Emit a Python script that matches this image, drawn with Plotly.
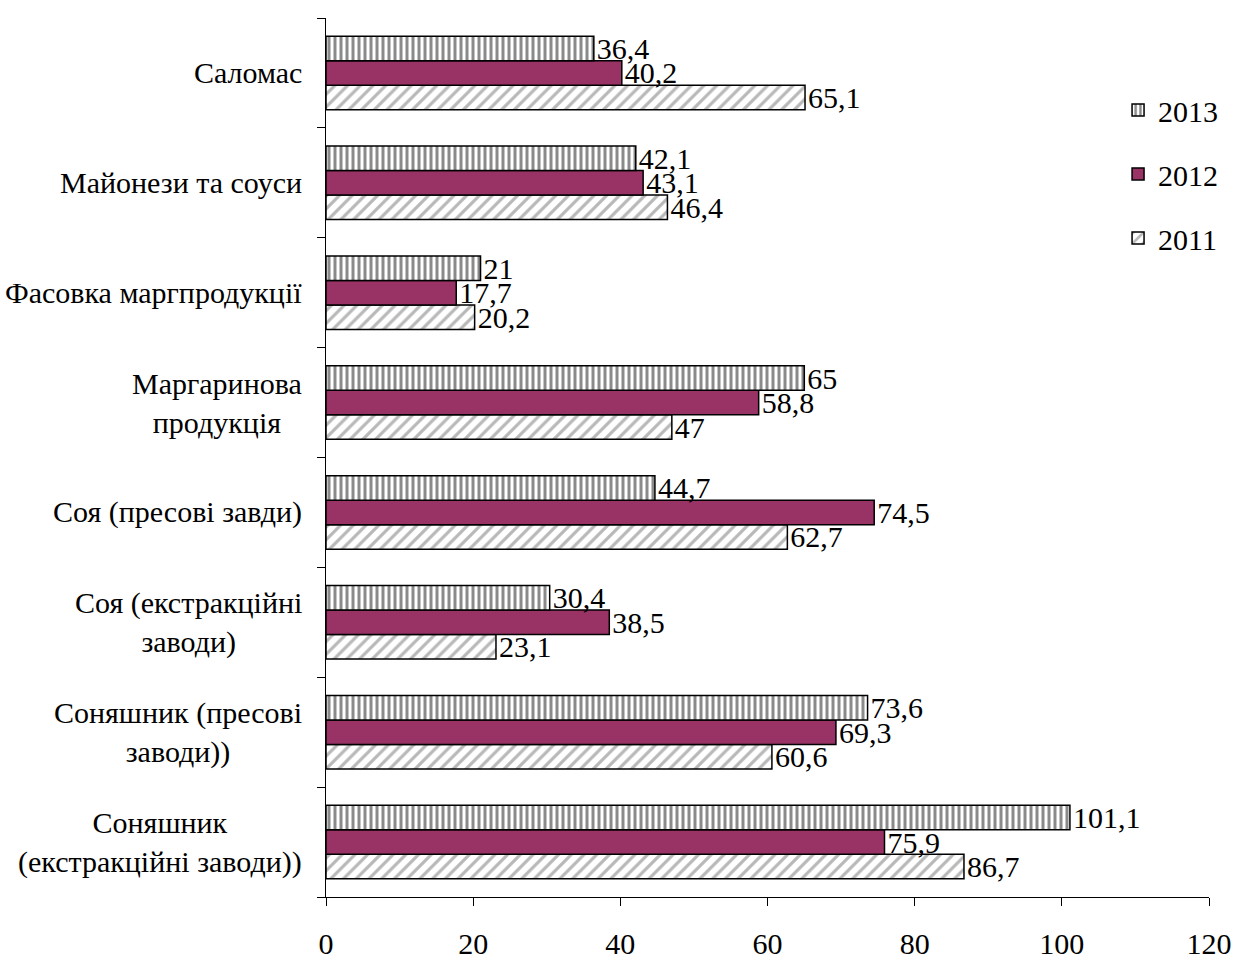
import plotly.graph_objects as go

# Categories listed bottom-to-top along the y axis
categories = [
    "Соняшник<br>(екстракційні заводи))",
    "Соняшник (пресові<br>заводи))",
    "Соя (екстракційні<br>заводи)",
    "Соя (пресові завди)",
    "Маргаринова<br>продукція",
    "Фасовка маргпродукції",
    "Майонези та соуси",
    "Саломас",
]
cat_ids = ["c%d" % i for i in range(len(categories))]

values_2011 = [86.7, 60.6, 23.1, 62.7, 47, 20.2, 46.4, 65.1]
values_2012 = [75.9, 69.3, 38.5, 74.5, 58.8, 17.7, 43.1, 40.2]
values_2013 = [101.1, 73.6, 30.4, 44.7, 65, 21, 42.1, 36.4]

x_ticks = [0, 20, 40, 60, 80, 100, 120]

FONT = "Liberation Serif, Times New Roman, serif"
FS = 30


def fmt(v):
    return f"{v:g}".replace(".", ",")


series = [
    ("2011", values_2011, 3, dict(color="white",
                                  line=dict(color="black", width=1.5),
                                  pattern=dict(shape="/", fgcolor="#b8b8b8", bgcolor="white",
                                               size=9, solidity=0.35, fillmode="replace"))),
    ("2012", values_2012, 2, dict(color="#993366",
                                  line=dict(color="black", width=1.5))),
    ("2013", values_2013, 1, dict(color="white",
                                  line=dict(color="black", width=1.5),
                                  pattern=dict(shape="|", fgcolor="#8a8a8a", bgcolor="white",
                                               size=6, solidity=0.5, fillmode="replace"))),
]

fig = go.Figure()
for name, vals, rank, marker in series:
    fig.add_trace(go.Bar(
        name=name,
        y=cat_ids,
        x=vals,
        orientation="h",
        marker=marker,
        text=[fmt(v) for v in vals],
        textposition="outside",
        constraintext="none",
        cliponaxis=False,
        textfont=dict(family=FONT, size=FS, color="black"),
        legendgroup=name,
        legendrank=rank,
    ))

# Category labels, each block centred line-by-line
for cid, label in zip(cat_ids, categories):
    fig.add_annotation(
        x=0, xref="paper", y=cid, yref="y",
        text=label, showarrow=False,
        xanchor="right", yanchor="middle", align="center",
        xshift=-22,
        font=dict(family=FONT, size=FS, color="black"),
    )

fig.update_layout(
    width=1235, height=962,
    margin=dict(l=326, r=26, t=18, b=65, autoexpand=False),
    plot_bgcolor="white", paper_bgcolor="white",
    barmode="group", bargap=0.33, bargroupgap=0,
    font=dict(family=FONT, size=FS, color="black"),
    showlegend=True,
    legend=dict(
        x=0.897, y=0.925, xanchor="left", yanchor="top",
        traceorder="grouped", tracegroupgap=22,
        font=dict(family=FONT, size=FS),
        bgcolor="rgba(0,0,0,0)",
        itemwidth=30,
    ),
    xaxis=dict(
        range=[0, 120], tickvals=x_ticks, ticktext=[str(t) for t in x_ticks],
        showgrid=False, zeroline=False, automargin=False,
        showline=True, linecolor="black", linewidth=1,
        ticks="outside", ticklen=8, tickcolor="black",
        ticklabelstandoff=12,
        tickfont=dict(family=FONT, size=FS),
    ),
    yaxis=dict(
        type="category", categoryorder="array", categoryarray=cat_ids,
        showticklabels=False, showgrid=False, zeroline=False, automargin=False,
        showline=True, linecolor="black", linewidth=1,
        ticks="outside", ticklen=8, tickcolor="black", tickson="boundaries",
    ),
)

fig.write_html("out.html")
